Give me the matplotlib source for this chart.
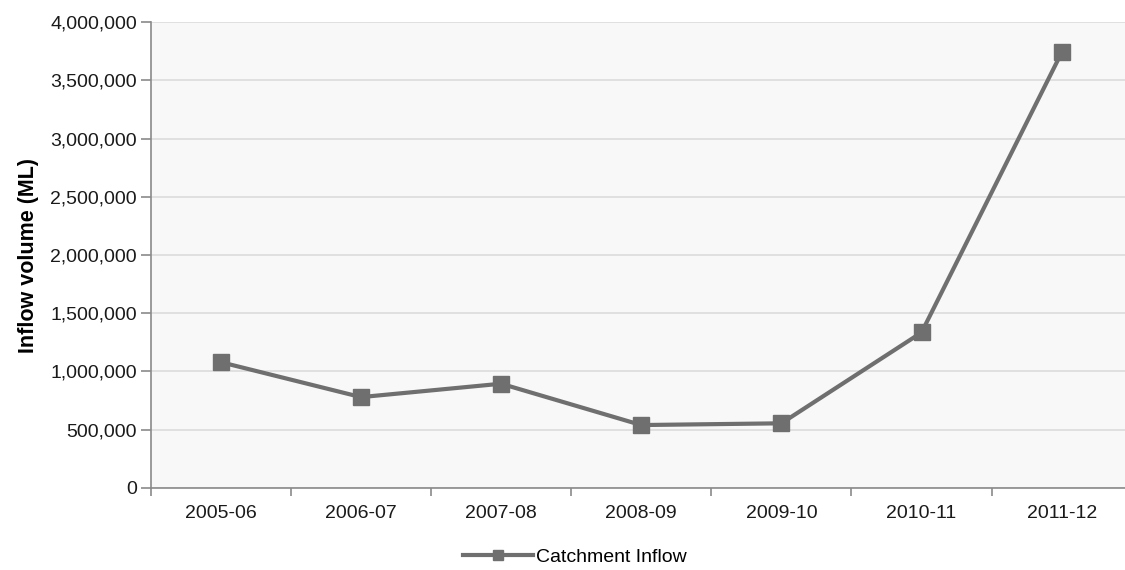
import matplotlib
matplotlib.use("Agg")
import matplotlib.pyplot as plt
from matplotlib.ticker import FuncFormatter, FixedLocator
from matplotlib.lines import Line2D

seasons = ["2005-06", "2006-07", "2007-08", "2008-09", "2009-10", "2010-11", "2011-12"]
inflow_ml = [1080000, 780000, 895000, 540000, 555000, 1335000, 3740000]
y_ticks = [0, 500000, 1000000, 1500000, 2000000, 2500000, 3000000, 3500000, 4000000]

plt.rcParams["font.family"] = ["Liberation Sans", "DejaVu Sans"]

fig = plt.figure(figsize=(11.25, 5.7), dpi=100)
ax = fig.add_axes([0.134, 0.144, 0.872, 0.817])
ax.set_facecolor("#f8f8f8")

x = list(range(len(seasons)))
line_color = "#6f6f6f"
ax.plot(x, inflow_ml, color=line_color, lw=3, marker="s", markersize=12,
        markerfacecolor=line_color, markeredgecolor=line_color, zorder=3,
        clip_on=False)

ax.set_xlim(-0.5, len(seasons) - 0.5)
ax.set_ylim(0, 4000000)
ax.set_yticks(y_ticks)
ax.yaxis.set_major_formatter(FuncFormatter(lambda v, p: f"{int(v):,}"))
ax.grid(axis="y", color="#dcdcdc", lw=1.2)
ax.set_axisbelow(True)

# category labels centred, tick marks at category boundaries
ax.set_xticks(x)
ax.set_xticklabels(seasons)
ax.tick_params(axis="x", length=0, pad=12, labelsize=14, colors="#1a1a1a")
ax.xaxis.set_minor_locator(FixedLocator([i - 0.5 for i in range(len(seasons) + 1)]))
ax.tick_params(axis="x", which="minor", length=6, color="#8a8a8a", width=1.2)
ax.tick_params(axis="y", length=7, width=1.2, labelsize=14, pad=3,
               colors="#8a8a8a", labelcolor="#1a1a1a")

for side in ("top", "right"):
    ax.spines[side].set_visible(False)
for side in ("left", "bottom"):
    ax.spines[side].set_color("#8a8a8a")
    ax.spines[side].set_linewidth(1.2)

ax.set_ylabel("Inflow volume (ML)", fontsize=15.5, fontweight="bold", labelpad=8)

handle = Line2D([], [], color=line_color, lw=3, marker="s", markersize=7,
                markerfacecolor=line_color, markeredgecolor=line_color)
fig.legend([handle], ["Catchment Inflow"], loc="center", bbox_to_anchor=(0.511, 0.022),
           frameon=False, fontsize=14, handlelength=3.6, handletextpad=0.15)

fig.savefig("out.png", dpi=100, facecolor="white")
